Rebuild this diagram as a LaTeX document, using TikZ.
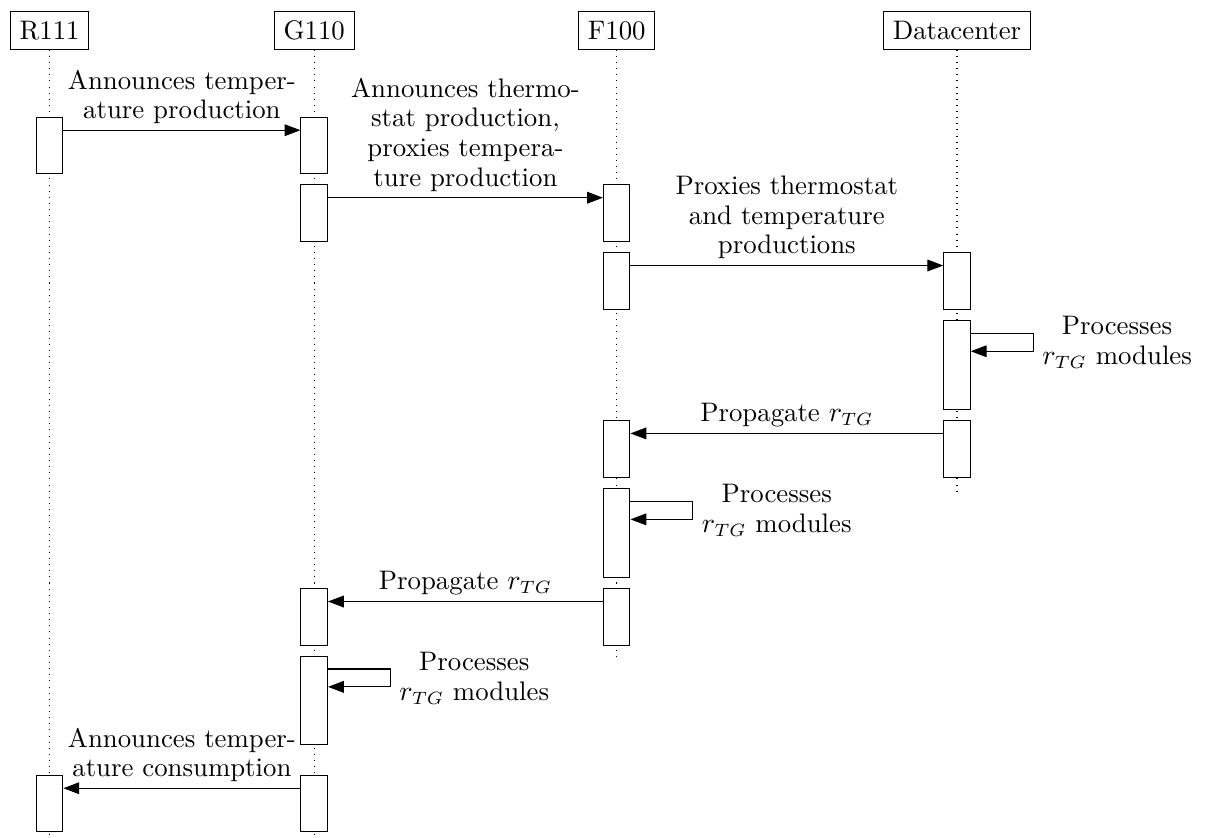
\documentclass[tikz,border=0pt]{standalone}
\usetikzlibrary{arrows.meta}
\begin{document}
\begin{tikzpicture}[x=0.392pt,y=-0.392pt,
  every node/.style={font=\fontsize{10.5pt}{11.6pt}\selectfont},
  head/.style={draw, rectangle, inner xsep=3.7pt, inner ysep=0pt, minimum height=14.75pt},
  act/.style={draw, fill=white, rectangle, inner sep=0pt, minimum width=10.4pt, minimum height=22.15pt},
  actlong/.style={act, minimum height=34.7pt},
  life/.style={dotted, line width=0.4pt},
  msg/.style={-{Triangle[length=6.2pt,width=4.6pt]}},
  lbl/.style={align=center, inner ysep=2.3pt},
]
\useasboundingbox (0,0) rectangle (1213,837);
% lifeline heads
\node[head] (R) at (49.6,30.5) {R111};
\node[head] (G) at (314.2,30.5) {G110};
\node[head] (F) at (616.7,30.5) {F100};
\node[head] (D) at (957,30.5) {Datacenter};
\coordinate (Rend) at (49.6,840);
\coordinate (Gend) at (314.2,840);
\coordinate (Fend) at (616.7,657);
\coordinate (Dend) at (957,491);
\draw[life] (R) -- (Rend);
\draw[life] (G) -- (Gend);
\draw[life] (F) -- (Fend);
\draw[life] (D) -- (Dend);
% activations
\node[act] (r1) at (49.6,145.7) {};
\node[act] (g1) at (314.2,145.7) {};
\node[act] (g2) at (314.2,213.2) {};
\node[act] (f1) at (616.7,213.2) {};
\node[act] (f2) at (616.7,281) {};
\node[act] (d1) at (957,281) {};
\node[actlong] (d2) at (957,364.9) {};
\node[act] (d3) at (957,448.9) {};
\node[act] (f3) at (616.7,448.9) {};
\node[actlong] (f4) at (616.7,533) {};
\node[act] (f5) at (616.7,617) {};
\node[act] (g3) at (314.2,617) {};
\node[actlong] (g4) at (314.2,700.5) {};
\node[act] (g5) at (314.2,803.7) {};
\node[act] (r2) at (49.6,803.7) {};
% messages
\draw[msg] ([yshift=-5.2pt]r1.north east) -- node[lbl, above] (m1) {Announces temper-\\ature production} ([yshift=-5.2pt]g1.north west);
\draw[msg] ([yshift=-5.2pt]g2.north east) -- node[lbl, above] (m2) {Announces thermo-\\stat production,\\proxies tempera-\\ture production} ([yshift=-5.2pt]f1.north west);
\draw[msg] ([yshift=-5.2pt]f2.north east) -- node[lbl, above] (m3) {Proxies thermostat\\and temperature\\productions} ([yshift=-5.2pt]d1.north west);
% self call datacenter
\draw[msg] ([yshift=-5.2pt]d2.north east) -- ++(24.5pt,0) coordinate (d2o) |- ([yshift=-12.2pt]d2.north east);
\node[lbl, anchor=west] (s1) at ([yshift=-3.6pt]d2o) {Processes\\$r_{TG}$ modules};
\draw[msg] ([yshift=-5.2pt]d3.north west) -- node[lbl, above] (m4) {Propagate $r_{TG}$} ([yshift=-5.2pt]f3.north east);
% self call F100
\draw[msg] ([yshift=-5.2pt]f4.north east) -- ++(24.5pt,0) coordinate (f4o) |- ([yshift=-12.2pt]f4.north east);
\node[lbl, anchor=west] (s2) at ([yshift=-3.6pt]f4o) {Processes\\$r_{TG}$ modules};
\draw[msg] ([yshift=-5.2pt]f5.north west) -- node[lbl, above] (m5) {Propagate $r_{TG}$} ([yshift=-5.2pt]g3.north east);
% self call G110
\draw[msg] ([yshift=-5.2pt]g4.north east) -- ++(24.5pt,0) coordinate (g4o) |- ([yshift=-12.2pt]g4.north east);
\node[lbl, anchor=west] (s3) at ([yshift=-3.6pt]g4o) {Processes\\$r_{TG}$ modules};
\draw[msg] ([yshift=-5.2pt]g5.north west) -- node[lbl, above] (m6) {Announces temper-\\ature consumption} ([yshift=-5.2pt]r2.north east);
\end{tikzpicture}
\end{document}
